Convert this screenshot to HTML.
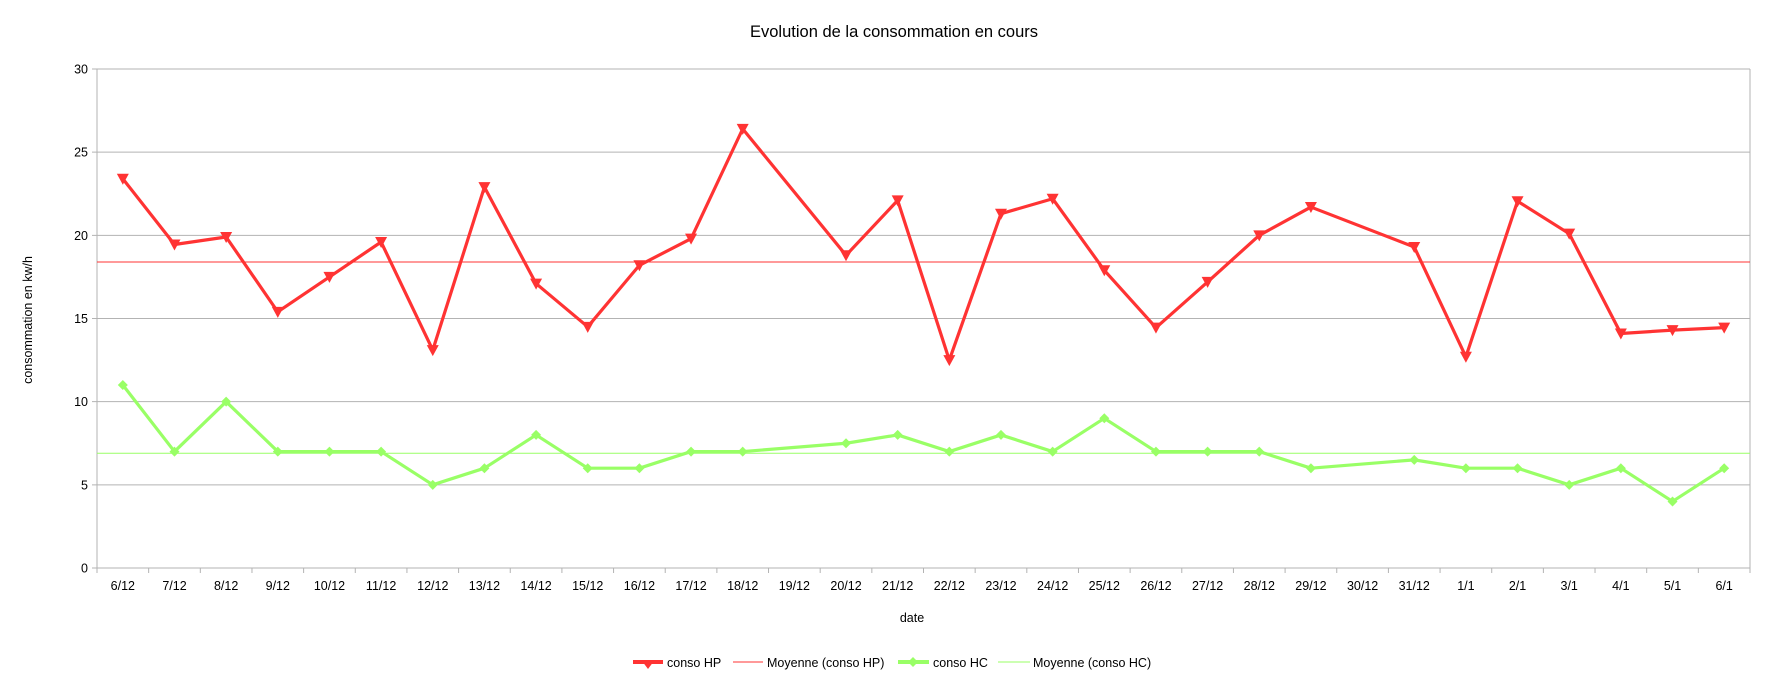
<!DOCTYPE html>
<html><head><meta charset="utf-8"><style>
html,body{margin:0;padding:0;background:#fff;}
svg{display:block;font-family:"Liberation Sans",sans-serif;}
</style></head><body>
<svg id="chart" width="1786" height="674" xmlns="http://www.w3.org/2000/svg">
<text x="894" y="37" font-size="16.5" text-anchor="middle" fill="#000">Evolution de la consommation en cours</text>
<text transform="translate(32,320) rotate(-90)" font-size="12.5" text-anchor="middle" fill="#000">consommation en kw/h</text>
<text x="912" y="622" font-size="12.5" text-anchor="middle" fill="#000">date</text>
<g id="grid"></g><g id="series"></g>
<g font-size="12.5">
 <g>
  <line x1="633" y1="662" x2="663" y2="662" stroke="#ff3333" stroke-width="4"/>
  <polygon points="642,661 654,661 648,669" fill="#ff3333"/>
  <text x="667" y="667">conso HP</text></g>
 <g>
  <line x1="733" y1="662" x2="763" y2="662" stroke="#ff3333" stroke-width="1"/>
  <text x="767" y="667">Moyenne (conso HP)</text></g>
 <g>
  <line x1="898" y1="662" x2="929" y2="662" stroke="#99ff66" stroke-width="4"/>
  <polygon points="913,657 918,662 913,667 908,662" fill="#99ff66"/>
  <text x="933" y="667">conso HC</text></g>
 <g>
  <line x1="998" y1="662" x2="1030" y2="662" stroke="#99ff66" stroke-width="1"/>
  <text x="1033" y="667">Moyenne (conso HC)</text></g>
</g>
</svg>
<script>
const categories = ["6/12","7/12","8/12","9/12","10/12","11/12","12/12","13/12","14/12","15/12","16/12","17/12","18/12","19/12","20/12","21/12","22/12","23/12","24/12","25/12","26/12","27/12","28/12","29/12","30/12","31/12","1/1","2/1","3/1","4/1","5/1","6/1"];
const consoHP = [23.4,19.45,19.9,15.4,17.5,19.6,13.1,22.9,17.1,14.5,18.2,19.8,26.4,null,18.8,22.1,12.5,21.3,22.2,17.9,14.45,17.2,20.0,21.7,null,19.3,12.7,22.05,20.1,14.1,14.3,14.45];
const consoHC = [11,7,10,7,7,7,5,6,8,6,6,7,7,null,7.5,8,7,8,7,9,7,7,7,6,null,6.5,6,6,5,6,4,6];
const meanHP = [18.4];
const meanHC = [6.9];
const yTicks = [0,5,10,15,20,25,30];

const NS="http://www.w3.org/2000/svg";
const L=97,R=1750,T=69,B=568,yMax=30;
const bw=(R-L)/categories.length;
const xS=i=>L+bw*(i+0.5);
const yS=v=>B-(v/yMax)*(B-T);
function mk(tag,attrs,parent){const e=document.createElementNS(NS,tag);for(const k in attrs)e.setAttribute(k,attrs[k]);parent.appendChild(e);return e;}
const grid=document.getElementById('grid'), ser=document.getElementById('series');
yTicks.forEach(t=>{
 const ln=mk('line',{x1:L-5,x2:R,y1:yS(t),y2:yS(t),stroke:'#b3b3b3','stroke-width':1},grid);
 
 
 const tx=mk('text',{x:L-9,y:yS(t)+4.5,'font-size':12.5,'text-anchor':'end',fill:'#000'},grid);
 tx.textContent=t;
 
 
});
mk('line',{x1:L,x2:L,y1:T,y2:B+5,stroke:'#b3b3b3'},grid);
mk('line',{x1:R,x2:R,y1:T,y2:B+5,stroke:'#b3b3b3'},grid);
categories.forEach((c,i)=>{
 mk('line',{x1:L+bw*i,x2:L+bw*i,y1:B,y2:B+5,stroke:'#b3b3b3'},grid);
 const tx=mk('text',{x:xS(i),y:B+22,'font-size':12.5,'text-anchor':'middle',fill:'#000'},grid);
 tx.textContent=c;
 
 
});
function mean(v,color,name){
 const ln=mk('line',{x1:L,x2:R,y1:yS(v),y2:yS(v),stroke:color,'stroke-width':1},ser);
 
 
}
mean(meanHP[0],'#ff3333','mean-line-hp');
mean(meanHC[0],'#99ff66','mean-line-hc');
function line(data,color,name,marker){
 const pts=[];data.forEach((v,i)=>{if(v!==null)pts.push([xS(i),yS(v)]);});
 const pl=mk('polyline',{points:pts.map(p=>p.join(',')).join(' '),fill:'none',stroke:color,'stroke-width':3.2,'stroke-linejoin':'round'},ser);
 
 
 pts.forEach(([x,y])=>{
  let m;
  if(marker==='tri') m=mk('polygon',{points:`${x-6},${y-5} ${x+6},${y-5} ${x},${y+6}`,fill:color},ser);
  else m=mk('polygon',{points:`${x},${y-5} ${x+5},${y} ${x},${y+5} ${x-5},${y}`,fill:color},ser);
  
  
 });
}
line(consoHC,'#99ff66','conso-hc','dia');
line(consoHP,'#ff3333','conso-hp','tri');
</script>
</body></html>
